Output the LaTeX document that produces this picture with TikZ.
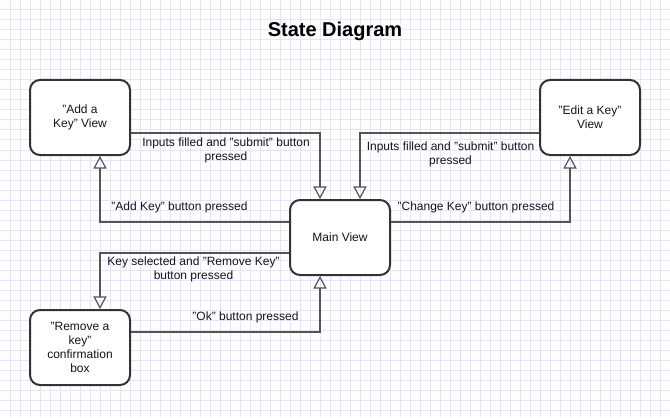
\documentclass[tikz,border=0pt]{standalone}
\usepackage{fontspec}
\setmainfont{Liberation Sans}
\usetikzlibrary{arrows.meta,calc}
\definecolor{gridc}{RGB}{228,228,250}
\definecolor{boxc}{RGB}{51,51,51}
\definecolor{linec}{RGB}{85,85,85}
\definecolor{txtc}{RGB}{20,20,30}
\tikzset{
  stateb/.style={draw=boxc, line width=1.5pt, rounded corners=7.5pt, fill=white,
    minimum width=75pt, minimum height=56.25pt, inner sep=0pt, align=center,
    text=txtc, font=\fontsize{9}{10.5}\selectfont},
  conn/.style={draw=linec, line width=0.9pt,
    -{Triangle[open, length=9.5pt, width=10pt, line width=0.9pt]}},
  lbl/.style={align=center, text=txtc, inner sep=0pt, font=\fontsize{9}{10.5}\selectfont},
}
\begin{document}
\begin{tikzpicture}[x=0.75pt, y=-0.75pt]
\useasboundingbox (0,0) rectangle (670,417);
\fill[white] (0,0) rectangle (670,417);
\foreach \i in {10,20,...,660} \draw[gridc, line width=0.75pt] (\i,0) -- (\i,417);
\foreach \j in {10,20,...,410} \draw[gridc, line width=0.75pt] (0,\j) -- (670,\j);

\node[font=\fontsize{15}{18}\selectfont\bfseries] (title) at (335,31) {State Diagram};

\node[stateb] (add) at (80,117.5) {"Add a\\Key" View};
\node[stateb] (edit) at (590,117.5) {"Edit a Key"\\View};
\node[stateb] (main) at (340,237.5) {Main View};
\node[stateb] (remove) at (80,347.5) {"Remove a\\key"\\confirmation\\box};

\draw[conn] ($(add.east)+(0,15.5)$) -| ($(main.north)+(-20,0)$);
\draw[conn] ($(main.west)+(0,-15.5)$) -| ($(add.south)+(20,0)$);
\draw[conn] ($(edit.west)+(0,15.5)$) -| ($(main.north)+(20,0)$);
\draw[conn] ($(main.east)+(0,-15.5)$) -| ($(edit.south)+(-20,0)$);
\draw[conn] ($(main.west)+(0,15.5)$) -| ($(remove.north)+(20,0)$);
\draw[conn] ($(remove.east)+(0,-15.5)$) -| ($(main.south)+(-20,0)$);

\node[lbl] (l1) at (226,150) {Inputs filled and "submit" button\\pressed};
\node[lbl] (l2) at (450.5,154) {Inputs filled and "submit" button\\pressed};
\node[lbl] (l3) at (179.5,207) {"Add Key" button pressed};
\node[lbl] (l4) at (476,207) {"Change Key" button pressed};
\node[lbl] (l5) at (193.5,269) {Key selected and "Remove Key"\\button pressed};
\node[lbl] (l6) at (245.5,317) {"Ok" button pressed};
\end{tikzpicture}
\end{document}
